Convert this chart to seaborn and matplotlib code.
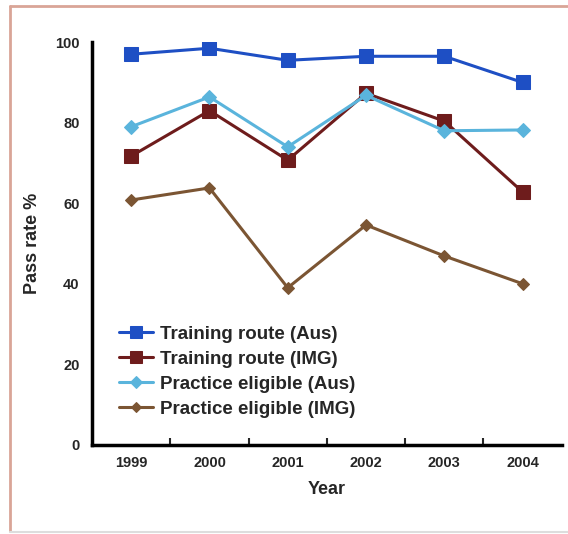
import matplotlib
matplotlib.use("Agg")
import matplotlib.pyplot as plt
import seaborn as sns
from matplotlib.lines import Line2D

# Data
years = ["1999", "2000", "2001", "2002", "2003", "2004"]
training_aus = [97, 98.5, 95.5, 96.5, 96.5, 90]
training_img = [71.7, 83, 70.7, 87.3, 80.4, 62.8]
practice_aus = [79, 86.4, 74, 86.8, 78, 78.2]
practice_img = [60.8, 63.8, 39, 54.6, 46.9, 40]

sns.set_style("white")
plt.rcParams['font.family'] = ['Liberation Sans', 'DejaVu Sans']

fig = plt.figure(figsize=(5.68, 5.34), dpi=100)
ax = fig.add_axes([0.162, 0.167, 0.827, 0.754])

series = [
    ("Training route (Aus)", training_aus, "#1e4fc4", "s", 10),
    ("Training route (IMG)", training_img, "#6e1c1c", "s", 10),
    ("Practice eligible (Aus)", practice_aus, "#5ab4dc", "D", 7.5),
    ("Practice eligible (IMG)", practice_img, "#7b5533", "D", 6.5),
]
for name, vals, col, mk, ms in series:
    sns.lineplot(x=years, y=vals, ax=ax, color=col, marker=mk, markersize=ms,
                 markeredgecolor=col, linewidth=2.2, label=name)

ax.set_xlim(-0.5, 5.5)
ax.set_ylim(0, 100)
ax.set_yticks([0, 20, 40, 60, 80, 100])
ax.set_xticks(range(len(years)))
ax.set_xticklabels(years)
ax.set_xticks([i + 0.5 for i in range(len(years) - 1)], minor=True)

for s in ["top", "right"]:
    ax.spines[s].set_visible(False)
for s in ["left", "bottom"]:
    ax.spines[s].set_linewidth(2.5)
    ax.spines[s].set_color("black")

ax.tick_params(axis="y", which="major", direction="out", length=5, width=1.2,
               labelsize=10.5, pad=4)
ax.tick_params(axis="x", which="major", length=0, labelsize=10.5, pad=8)
ax.tick_params(axis="x", which="minor", direction="in", length=5, width=1.5,
               bottom=True)
for lbl in ax.get_xticklabels() + ax.get_yticklabels():
    lbl.set_fontweight("bold")

ax.set_xlabel("Year", fontsize=13, fontweight="bold", labelpad=8)
ax.set_ylabel("Pass rate %", fontsize=13, fontweight="bold", labelpad=10)

leg = ax.legend(loc="lower left", bbox_to_anchor=(0.03, 0.035), frameon=False,
                prop={"size": 13.5, "weight": "bold"}, handlelength=1.8,
                handletextpad=0.4, labelspacing=0.42, markerscale=0.8,
                borderpad=0.2)

# outer frame of the figure
frame_col = "#d9a597"
fig.add_artist(Line2D([10 / 568, 10 / 568], [0.005, 1 - 6 / 534],
                      transform=fig.transFigure, color=frame_col, linewidth=2))
fig.add_artist(Line2D([10 / 568, 1.0], [1 - 6 / 534, 1 - 6 / 534],
                      transform=fig.transFigure, color=frame_col, linewidth=2))
fig.add_artist(Line2D([10 / 568, 1.0], [0.004, 0.004],
                      transform=fig.transFigure, color="#dddddd", linewidth=1.5))

fig.savefig("out.png", dpi=100)
